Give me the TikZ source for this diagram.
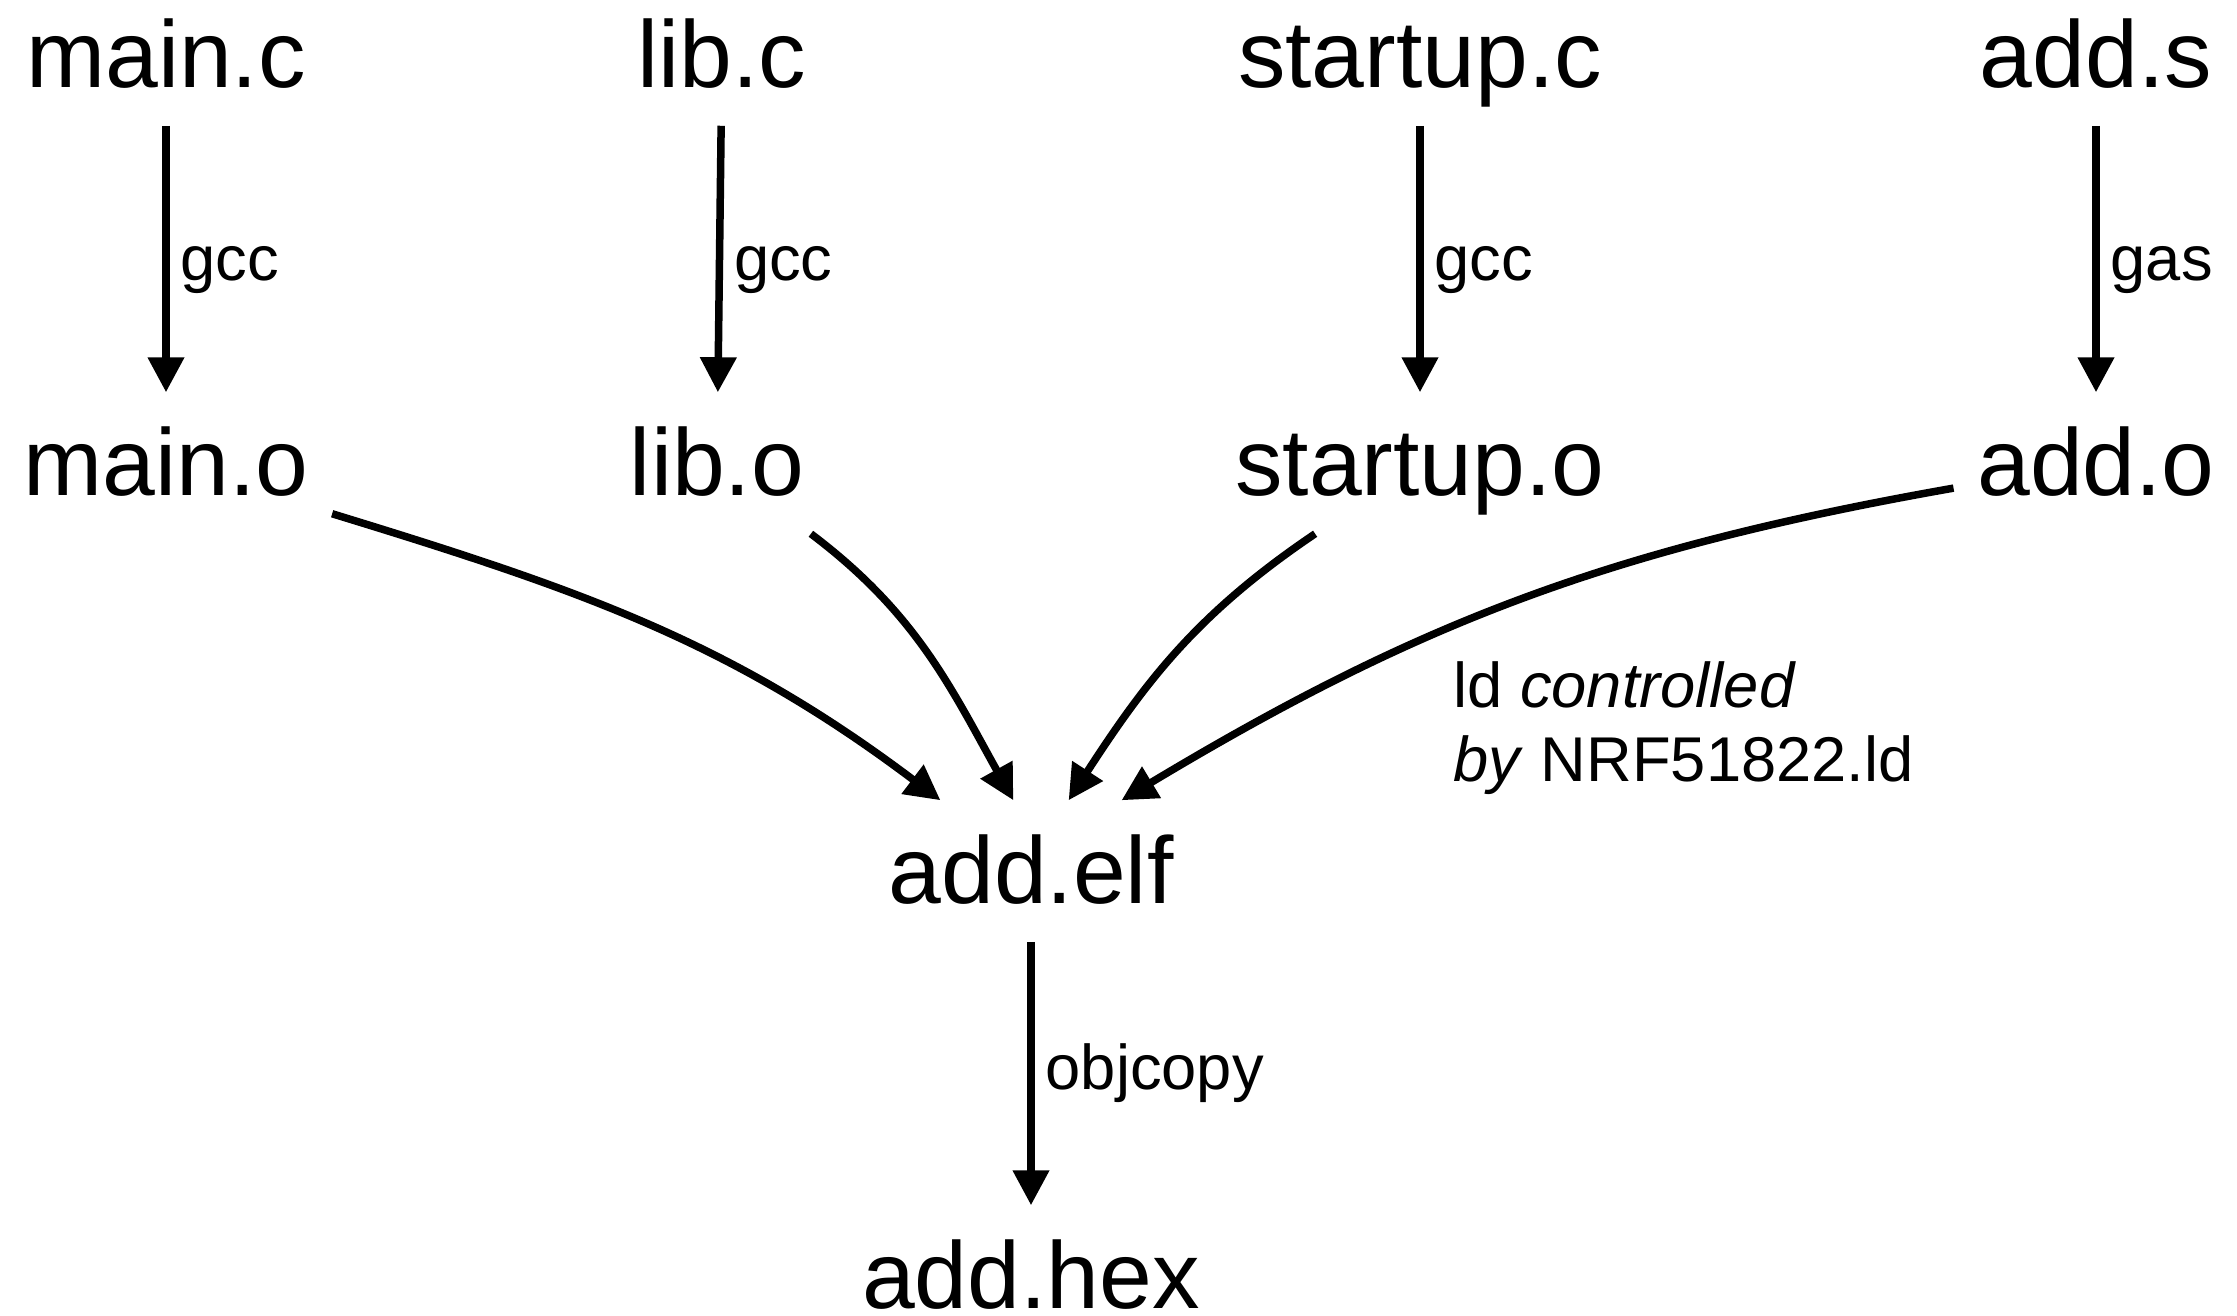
\documentclass[tikz,border=0pt]{standalone}
\usepackage{fontspec}
\setmainfont{Liberation Sans}
\usetikzlibrary{arrows.meta}
\tikzset{
     fileNode/.style =
        { font=\fontsize{27}{32}\selectfont
        , text height=7.2mm
        , text depth=0.8mm
        , inner xsep=2mm
        , inner ysep=2.7mm
        }
   , toolLabel/.style =
        { font=\fontsize{18}{21.3}\selectfont
        , inner sep=1.1mm
        }
   , noteText/.style =
        { toolLabel
        , align=left
        , inner xsep=0.5mm
        , inner ysep=2.7mm
        }
}

\begin{document}
\begin{tikzpicture}
            [ auto
            , ->
            , >={Triangle[length=3.5mm,width=3.5mm]}
            , line width=0.75mm
            , node distance=4.08cm
            ]
            \useasboundingbox (0,0) rectangle (22.37,-13.15);

            % sources
            \node[fileNode] (mainc) at (1.66,-0.55) {main.c};
            \node[fileNode] (libc) [right of=mainc, node distance=5.56cm] {lib.c};
            \node[fileNode] (startupc) [right of=libc, node distance=6.98cm] {startup.c};
            \node[fileNode] (adds) [right of=startupc, node distance=6.76cm] {add.s};

            % objects
            \node[fileNode] (maino) [below of=mainc] {main.o};
            \node[fileNode] (libo) [below of=libc, xshift=-0.5mm] {lib.o};
            \node[fileNode] (startupo) [below of=startupc] {startup.o};
            \node[fileNode] (addo) [below of=adds] {add.o};

            \node[fileNode] (addelf) at (10.31,-8.71) {add.elf};
            \node[fileNode] (addhex) [below of=addelf, node distance=4.05cm] {add.hex};

            \path[every node/.style={toolLabel}]
            (mainc) edge node[pos=0.54] {gcc} (maino)
            (libc) edge node[pos=0.54] {gcc} (libo)
            (startupc) edge node[pos=0.54] {gcc} (startupo)
            (adds) edge node[pos=0.54] {gas} (addo)

            (maino) edge [out=-17, in=143] (addelf.142)
            (libo) edge [out=-37, in=119] (addelf.104)
            (startupo) edge [out=-146, in=57] (addelf.62)
            (addo) edge [out=-170, in=31]
                node[noteText, pos=0.6, anchor=north west]
                {ld \textit{controlled}\\\textit{by} NRF51822.ld} (addelf.38)

            (addelf) edge node {objcopy} (addhex)
            ;
\end{tikzpicture}
\end{document}
